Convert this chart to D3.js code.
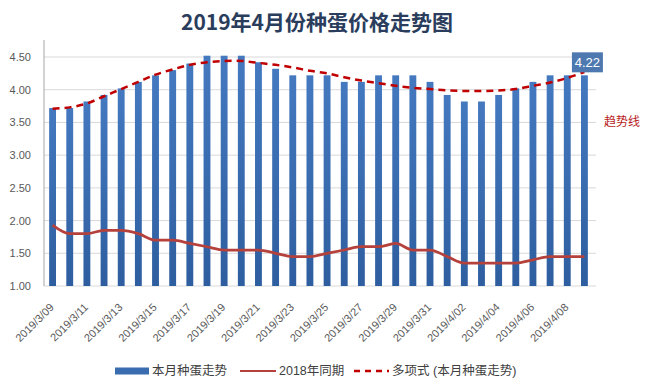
<!DOCTYPE html>
<html>
<head>
<meta charset="utf-8">
<script src="https://cdn.jsdelivr.net/npm/d3@7"></script>
<style>
  body { margin: 0; background: #fff; }
  svg { display: block; font-family: "Liberation Sans", "Noto Sans CJK SC", sans-serif; }
</style>
</head>
<body>
<svg id="chart" width="646" height="388"></svg>
<script>
// 日期 (2019/3/09 - 2019/4/09)
const dates = [
  '2019/3/09','2019/3/10','2019/3/11','2019/3/12','2019/3/13','2019/3/14','2019/3/15','2019/3/16',
  '2019/3/17','2019/3/18','2019/3/19','2019/3/20','2019/3/21','2019/3/22','2019/3/23','2019/3/24',
  '2019/3/25','2019/3/26','2019/3/27','2019/3/28','2019/3/29','2019/3/30','2019/3/31','2019/4/01',
  '2019/4/02','2019/4/03','2019/4/04','2019/4/05','2019/4/06','2019/4/07','2019/4/08','2019/4/09'
];
// 本月种蛋走势
const thisMonth = [
  3.72, 3.72, 3.82, 3.92, 4.02, 4.12, 4.22, 4.30, 4.40, 4.52, 4.52, 4.52, 4.42, 4.32, 4.22, 4.22,
  4.22, 4.12, 4.12, 4.22, 4.22, 4.22, 4.12, 3.92, 3.82, 3.82, 3.92, 4.02, 4.12, 4.22, 4.22, 4.22
];
// 2018年同期
const lastYear = [
  1.93, 1.80, 1.80, 1.85, 1.85, 1.80, 1.70, 1.70, 1.65, 1.60, 1.55, 1.55, 1.55, 1.50, 1.45, 1.45,
  1.50, 1.55, 1.60, 1.60, 1.65, 1.55, 1.55, 1.45, 1.35, 1.35, 1.35, 1.35, 1.40, 1.45, 1.45, 1.45
];
// 多项式趋势线
const trend = [
  3.71, 3.73, 3.79, 3.90, 4.01, 4.12, 4.23, 4.31, 4.38, 4.42, 4.44, 4.44, 4.41, 4.38, 4.34, 4.29,
  4.25, 4.19, 4.14, 4.10, 4.06, 4.03, 4.01, 3.99, 3.98, 3.98, 3.99, 4.01, 4.06, 4.11, 4.18, 4.27
];
const yTicks = [1.0, 1.5, 2.0, 2.5, 3.0, 3.5, 4.0, 4.5];
const legendItems = ['本月种蛋走势', '2018年同期', '多项式 (本月种蛋走势)'];

const svg = d3.select('#chart');
const plotLeft = 44, plotRight = 593, plotTop = 40, plotBottom = 286;

const x = d3.scaleBand().domain(dates).range([plotLeft, plotRight]).paddingInner(0.6).paddingOuter(0.3);
const y = d3.scaleLinear().domain([1, 4.76]).range([plotBottom, plotTop]);

// 渐变
const defs = svg.append('defs');
const grad = defs.append('linearGradient').attr('id', 'barGrad').attr('x1', 0).attr('y1', 0).attr('x2', 0).attr('y2', 1);
grad.append('stop').attr('offset', '0%').attr('stop-color', '#4479c0');
grad.append('stop').attr('offset', '100%').attr('stop-color', '#2e5e9f');

// 标题
svg.append('text')
  .attr('x', 317).attr('y', 30)
  .attr('text-anchor', 'middle')
  .style('font-family', '"Noto Sans CJK SC", sans-serif')
  .style('font-size', '21px').style('font-weight', 'bold')
  .attr('fill', '#2a3d5c')
  .text('2019年4月份种蛋价格走势图');

// 网格线
svg.append('g').selectAll('line').data(yTicks).join('line')
  .attr('x1', plotLeft).attr('x2', plotRight + 3)
  .attr('y1', d => y(d)).attr('y2', d => y(d))
  .attr('stroke', '#d9d9d9').attr('stroke-width', 1);

// Y轴
const yAxis = svg.append('g').attr('transform', `translate(${plotLeft},0)`)
  .call(d3.axisLeft(y).tickValues(yTicks).tickFormat(d3.format('.2f')).tickSize(0).tickPadding(13));
yAxis.select('.domain').remove();
yAxis.selectAll('text').style('font-size', '11px').attr('fill', '#595959');
svg.append('line').attr('x1', plotLeft).attr('x2', plotLeft).attr('y1', plotTop).attr('y2', plotBottom)
  .attr('stroke', '#a6a6a6').attr('stroke-width', 1);

// 柱子
svg.append('g').selectAll('rect').data(thisMonth).join('rect')
  .attr('x', (d, i) => x(dates[i]))
  .attr('width', x.bandwidth())
  .attr('y', d => y(d))
  .attr('height', d => plotBottom - y(d))
  .attr('fill', 'url(#barGrad)');

const cx = i => x(dates[i]) + x.bandwidth() / 2;

// 2018年同期
svg.append('path').datum(lastYear)
  .attr('d', d3.line().x((d, i) => cx(i)).y(d => y(d)).curve(d3.curveMonotoneX))
  .attr('fill', 'none').attr('stroke', '#b5413d').attr('stroke-width', 2.75);

// 趋势线
svg.append('path').datum(trend)
  .attr('d', d3.line().x((d, i) => cx(i)).y(d => y(d)).curve(d3.curveCatmullRom))
  .attr('fill', 'none').attr('stroke', '#c00000').attr('stroke-width', 2.5)
  .attr('stroke-dasharray', '7,5');

// X轴标签
const xAxis = svg.append('g').attr('transform', `translate(0,${plotBottom})`)
  .call(d3.axisBottom(x).tickValues(dates.filter((d, i) => i % 2 === 0)).tickSize(0).tickPadding(0));
xAxis.select('.domain').remove();
xAxis.selectAll('text')
  .style('font-size', '11px').attr('fill', '#595959')
  .attr('text-anchor', 'end')
  .attr('dy', 0)
  .attr('transform', 'translate(2,22) rotate(-45)');

// 最后一个数据标签
const last = thisMonth.length - 1;
const lbl = svg.append('g').attr('transform', `translate(${cx(last) + 3},${y(thisMonth[last]) - 13})`);
lbl.append('rect').attr('x', -15.5).attr('y', -10).attr('width', 31).attr('height', 20).attr('fill', '#4e79b0');
lbl.append('text').attr('text-anchor', 'middle').attr('dy', '0.36em')
  .style('font-size', '13px').attr('fill', '#fff').text(d3.format('.2f')(thisMonth[last]));

// 趋势线注释
svg.append('text').attr('x', 604).attr('y', 126)
  .style('font-family', '"Noto Sans CJK SC", sans-serif')
  .style('font-size', '12px').attr('fill', '#b81c1c').text('趋势线');

// 图例
const lg = svg.append('g').attr('transform', 'translate(0,371)').style('font-size', '12.5px');
lg.append('rect').attr('x', 115).attr('y', -3.5).attr('width', 34).attr('height', 7).attr('fill', '#3a6cb0');
lg.append('text').attr('x', 152).attr('dy', '0.35em').attr('fill', '#404040').text(legendItems[0]);
lg.append('line').attr('x1', 240).attr('x2', 276).attr('y1', 0).attr('y2', 0).attr('stroke', '#b5413d').attr('stroke-width', 2);
lg.append('text').attr('x', 279).attr('dy', '0.35em').attr('fill', '#404040').text(legendItems[1]);
lg.append('line').attr('x1', 354).attr('x2', 389).attr('y1', 0).attr('y2', 0).attr('stroke', '#c00000')
  .attr('stroke-width', 2.5).attr('stroke-dasharray', '6,5');
lg.append('text').attr('x', 392).attr('dy', '0.35em').attr('fill', '#404040').text(legendItems[2]);
</script>
</body>
</html>
